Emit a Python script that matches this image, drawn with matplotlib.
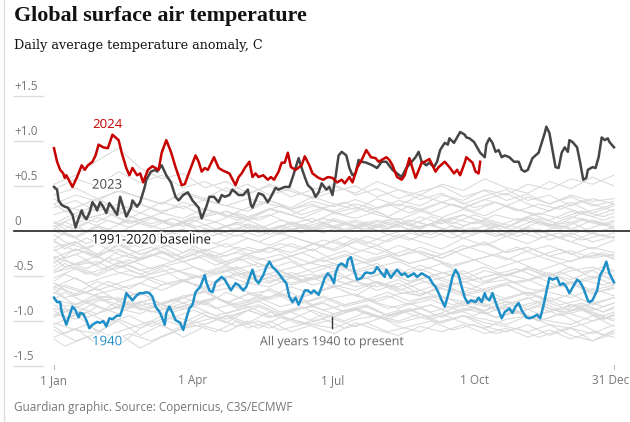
import matplotlib
matplotlib.use("Agg")
import matplotlib.pyplot as plt
import matplotlib.patheffects as pe

# day of year (0 = 1 Jan) and anomaly in C
days_2024 = [0, 2, 4, 6, 7, 8, 12, 15, 18, 20, 22, 25, 27, 29, 32, 35, 38, 42, 44, 47,
             49, 51, 54, 56, 58, 61, 64, 68, 70, 73, 76, 79, 83, 85, 88, 92, 94, 96, 98, 100,
             104, 107, 110, 114, 118, 120, 122, 124, 127, 129, 131, 133, 136, 139, 141, 143, 146, 148, 150, 152,
             154, 157, 161, 163, 166, 168, 172, 175, 178, 181, 184, 187, 189, 192, 194, 197, 200, 203, 206, 209,
             211, 213, 216, 218, 220, 223, 226, 228, 231, 233, 235, 239, 241, 244, 246, 248, 250, 254, 257, 260,
             262, 264, 267, 268, 272, 274, 276, 277]
anom_2024 = [0.92, 0.77, 0.68, 0.64, 0.59, 0.62, 0.49, 0.60, 0.73, 0.68, 0.73, 0.77, 0.84, 0.96, 0.93, 0.92, 1.07, 1.01, 0.87, 0.70,
             0.62, 0.70, 0.62, 0.64, 0.54, 0.68, 0.72, 0.68, 0.87, 1.01, 0.88, 0.71, 0.51, 0.52, 0.66, 0.84, 0.77, 0.66, 0.70, 0.68,
             0.82, 0.70, 0.67, 0.64, 0.51, 0.60, 0.64, 0.70, 0.77, 0.60, 0.64, 0.60, 0.62, 0.57, 0.60, 0.57, 0.66, 0.76, 0.76, 0.87,
             0.71, 0.68, 0.73, 0.83, 0.73, 0.64, 0.59, 0.57, 0.60, 0.59, 0.54, 0.57, 0.53, 0.60, 0.54, 0.70, 0.79, 0.90, 0.82, 0.81,
             0.77, 0.79, 0.82, 0.79, 0.73, 0.60, 0.57, 0.62, 0.81, 0.70, 0.59, 0.76, 0.77, 0.80, 0.73, 0.66, 0.71, 0.77, 0.71, 0.64,
             0.68, 0.62, 0.76, 0.82, 0.76, 0.66, 0.64, 0.77]

days_2023 = [0, 2, 3, 5, 7, 9, 12, 14, 16, 18, 19, 21, 23, 25, 27, 28, 30, 32, 34, 36,
             38, 41, 43, 45, 47, 50, 51, 54, 56, 59, 60, 63, 66, 67, 70, 73, 76, 79, 81, 84,
             87, 90, 94, 96, 99, 101, 104, 107, 109, 111, 114, 116, 120, 123, 126, 128, 129, 131, 133, 136,
             139, 141, 144, 146, 150, 153, 155, 157, 159, 161, 163, 165, 168, 170, 172, 174, 177, 179, 181, 183,
             185, 187, 190, 192, 194, 196, 198, 200, 203, 207, 210, 213, 216, 220, 223, 226, 229, 232, 235, 237,
             239, 242, 244, 247, 249, 251, 254, 256, 257, 260, 262, 264, 267, 268, 270, 273, 275, 277, 280, 281,
             283, 285, 287, 289, 291, 293, 296, 299, 302, 304, 306, 308, 311, 313, 315, 317, 319, 320, 322, 324,
             326, 328, 330, 332, 334, 335, 337, 340, 342, 344, 346, 347, 350, 352, 354, 356, 358, 360, 361, 364]
anom_2023 = [0.49, 0.46, 0.34, 0.29, 0.27, 0.26, 0.18, 0.04, 0.14, 0.23, 0.18, 0.13, 0.20, 0.32, 0.27, 0.23, 0.32, 0.27, 0.20, 0.31,
             0.26, 0.18, 0.38, 0.27, 0.16, 0.26, 0.34, 0.27, 0.32, 0.49, 0.57, 0.66, 0.68, 0.66, 0.73, 0.62, 0.54, 0.38, 0.34, 0.40,
             0.43, 0.34, 0.26, 0.14, 0.27, 0.38, 0.38, 0.32, 0.40, 0.38, 0.40, 0.46, 0.40, 0.40, 0.46, 0.29, 0.26, 0.34, 0.42, 0.40,
             0.32, 0.38, 0.48, 0.46, 0.49, 0.49, 0.59, 0.70, 0.81, 0.70, 0.60, 0.51, 0.46, 0.38, 0.43, 0.53, 0.46, 0.49, 0.40, 0.60,
             0.84, 0.88, 0.84, 0.70, 0.62, 0.64, 0.79, 0.77, 0.76, 0.73, 0.70, 0.77, 0.77, 0.68, 0.64, 0.60, 0.70, 0.76, 0.82, 0.88,
             0.77, 0.73, 0.76, 0.71, 0.77, 0.90, 0.98, 0.96, 1.03, 0.98, 1.04, 1.10, 1.07, 1.04, 1.03, 0.99, 0.93, 0.87, 0.82, 0.96,
             1.03, 0.98, 0.88, 0.90, 0.82, 0.84, 0.82, 0.77, 0.77, 0.68, 0.66, 0.68, 0.81, 0.84, 0.87, 0.98, 1.09, 1.16, 1.09, 0.90,
             0.71, 0.70, 0.87, 0.93, 0.88, 1.01, 0.99, 0.93, 0.76, 0.57, 0.59, 0.68, 0.71, 0.70, 0.82, 1.04, 1.01, 1.03, 0.99, 0.93]

days_1940 = [0, 2, 4, 5, 8, 9, 12, 14, 16, 17, 19, 21, 23, 25, 28, 30, 32, 34, 36, 38,
             41, 43, 45, 47, 49, 51, 54, 56, 58, 60, 62, 64, 66, 69, 72, 73, 75, 77, 79, 82,
             84, 86, 88, 90, 92, 95, 98, 99, 101, 103, 105, 109, 111, 113, 115, 118, 120, 123, 125, 127,
             129, 131, 133, 136, 138, 140, 142, 144, 146, 149, 151, 153, 155, 157, 159, 161, 163, 165, 167, 169,
             172, 174, 176, 178, 180, 182, 183, 185, 187, 190, 191, 193, 195, 197, 200, 202, 203, 206, 208, 210,
             213, 215, 216, 219, 221, 223, 226, 228, 230, 232, 234, 236, 239, 241, 244, 246, 248, 250, 252, 254,
             257, 259, 261, 263, 265, 267, 269, 271, 274, 276, 278, 280, 281, 283, 285, 287, 289, 291, 293, 296,
             298, 300, 302, 304, 307, 309, 311, 314, 316, 318, 320, 322, 324, 327, 329, 331, 333, 335, 337, 340,
             342, 344, 347, 348, 350, 353, 355, 357, 359, 361, 364]
anom_1940 = [-0.74, -0.79, -0.79, -0.90, -1.04, -0.99, -0.84, -0.88, -0.96, -0.91, -0.92, -0.99, -1.08, -1.04, -1.01, -1.02, -1.00, -1.06, -0.97, -0.98,
             -0.94, -0.94, -0.84, -0.69, -0.73, -0.77, -0.71, -0.69, -0.69, -0.68, -0.69, -0.73, -0.84, -0.91, -1.04, -0.91, -0.84, -0.91, -0.99, -1.02,
             -1.10, -0.97, -0.86, -0.82, -0.68, -0.62, -0.49, -0.57, -0.66, -0.68, -0.57, -0.51, -0.54, -0.60, -0.66, -0.58, -0.60, -0.66, -0.62, -0.52,
             -0.43, -0.54, -0.58, -0.49, -0.40, -0.34, -0.40, -0.43, -0.47, -0.54, -0.58, -0.73, -0.79, -0.74, -0.82, -0.74, -0.66, -0.66, -0.69, -0.66,
             -0.71, -0.62, -0.52, -0.47, -0.51, -0.58, -0.47, -0.38, -0.36, -0.40, -0.32, -0.29, -0.43, -0.54, -0.52, -0.47, -0.46, -0.47, -0.46, -0.40,
             -0.47, -0.51, -0.43, -0.52, -0.47, -0.43, -0.49, -0.47, -0.51, -0.49, -0.47, -0.51, -0.47, -0.49, -0.52, -0.58, -0.62, -0.69, -0.77, -0.84,
             -0.66, -0.51, -0.43, -0.49, -0.62, -0.74, -0.80, -0.77, -0.79, -0.74, -0.79, -0.69, -0.74, -0.77, -0.69, -0.79, -0.88, -0.97, -0.90, -0.86,
             -0.91, -0.84, -0.80, -0.88, -0.96, -0.97, -0.96, -0.93, -0.97, -0.84, -0.68, -0.52, -0.54, -0.52, -0.60, -0.58, -0.62, -0.69, -0.63, -0.54,
             -0.57, -0.63, -0.77, -0.79, -0.77, -0.66, -0.49, -0.43, -0.34, -0.47, -0.57]

# the other years, sampled every 14 days
other_days = [0, 14, 28, 42, 56, 70, 84, 98, 112, 126, 140, 154, 168, 182, 196, 210, 224, 238, 252, 266, 280, 294, 308, 322, 336, 350, 364]
other_years = [
    [0.52, 0.62, 0.78, 0.92, 0.70, 0.58, 0.64, 0.48, 0.55, 0.42, 0.50, 0.38, 0.46, 0.52, 0.40, 0.47, 0.36, 0.44, 0.50, 0.38, 0.45, 0.34, 0.41, 0.30, 0.38, 0.28, 0.33],
    [0.46, 0.58, 0.50, 0.66, 0.54, 0.62, 0.48, 0.55, 0.44, 0.52, 0.40, 0.47, 0.36, 0.44, 0.50, 0.38, 0.46, 0.35, 0.42, 0.30, 0.39, 0.46, 0.34, 0.40, 0.28, 0.36, 0.30],
    [0.30, 0.40, 0.33, 0.46, 0.37, 0.30, 0.44, 0.36, 0.48, 0.40, 0.52, 0.44, 0.38, 0.50, 0.42, 0.55, 0.46, 0.40, 0.52, 0.45, 0.58, 0.48, 0.42, 0.55, 0.47, 0.60, 0.50],
    [0.26, 0.34, 0.22, 0.30, 0.20, 0.32, 0.25, 0.35, 0.28, 0.22, 0.34, 0.26, 0.38, 0.30, 0.24, 0.36, 0.28, 0.40, 0.32, 0.25, 0.35, 0.42, 0.30, 0.22, 0.32, 0.20, 0.28],
    [0.40, 0.48, 0.36, 0.44, 0.38, 0.30, 0.42, 0.34, 0.28, 0.36, 0.30, 0.24, 0.33, 0.27, 0.35, 0.26, 0.30, 0.22, 0.32, 0.26, 0.35, 0.28, 0.38, 0.30, 0.40, 0.33, 0.36],
    [0.05, 0.16, 0.10, 0.22, 0.12, 0.20, 0.14, 0.25, 0.18, 0.12, 0.24, 0.18, 0.28, 0.22, 0.30, 0.24, 0.34, 0.28, 0.40, 0.34, 0.46, 0.40, 0.52, 0.46, 0.58, 0.52, 0.62],
    [0.10, 0.02, 0.15, 0.08, 0.20, 0.12, 0.05, 0.16, 0.22, 0.14, 0.25, 0.18, 0.10, 0.20, 0.26, 0.18, 0.12, 0.22, 0.15, 0.24, 0.17, 0.28, 0.20, 0.12, 0.22, 0.16, 0.24],
    [0.08, 0.20, 0.28, 0.18, 0.30, 0.22, 0.28, 0.16, 0.22, 0.12, 0.18, 0.08, 0.14, 0.04, 0.10, 0.00, 0.06, -0.04, 0.02, -0.08, 0.00, -0.06, 0.04, -0.04, -0.12, -0.02, -0.08],
    [0.02, -0.06, 0.06, -0.02, 0.10, 0.02, 0.08, -0.02, 0.06, 0.12, 0.02, 0.08, 0.00, 0.06, 0.12, 0.04, 0.10, 0.02, 0.14, 0.06, 0.12, 0.04, 0.16, 0.08, 0.02, 0.12, 0.06],
    [0.18, 0.26, 0.36, 0.24, 0.30, 0.20, 0.32, 0.24, 0.16, 0.26, 0.34, 0.24, 0.30, 0.20, 0.14, 0.22, 0.10, 0.04, 0.12, -0.02, 0.06, -0.06, 0.02, -0.10, -0.02, -0.12, -0.06],
    [-0.22, -0.12, -0.26, -0.10, -0.18, -0.04, -0.12, 0.02, -0.06, 0.08, 0.00, 0.10, 0.04, 0.14, 0.06, 0.12, 0.04, 0.16, 0.08, 0.18, 0.10, 0.04, 0.14, 0.06, 0.10, -0.02, 0.04],
    [-0.34, -0.26, -0.38, -0.22, -0.30, -0.14, -0.24, -0.10, -0.18, -0.08, -0.16, -0.06, -0.14, -0.20, -0.08, -0.16, -0.04, -0.12, -0.20, -0.08, -0.16, -0.06, -0.14, -0.04, -0.12, -0.20, -0.10],
    [-0.30, -0.20, -0.28, -0.16, -0.26, -0.18, -0.12, -0.22, -0.14, -0.26, -0.18, -0.24, -0.14, -0.22, -0.12, -0.20, -0.28, -0.18, -0.26, -0.16, -0.24, -0.32, -0.22, -0.16, -0.26, -0.18, -0.24],
    [-0.12, -0.22, -0.14, -0.26, -0.32, -0.22, -0.30, -0.20, -0.28, -0.18, -0.24, -0.14, -0.22, -0.10, -0.20, -0.26, -0.16, -0.24, -0.30, -0.20, -0.14, -0.24, -0.18, -0.28, -0.34, -0.24, -0.30],
    [-0.28, -0.38, -0.34, -0.46, -0.52, -0.42, -0.56, -0.48, -0.40, -0.52, -0.58, -0.46, -0.54, -0.44, -0.56, -0.48, -0.42, -0.54, -0.46, -0.52, -0.58, -0.48, -0.42, -0.50, -0.40, -0.52, -0.44],
    [-0.46, -0.36, -0.28, -0.40, -0.32, -0.24, -0.34, -0.28, -0.38, -0.26, -0.34, -0.28, -0.36, -0.42, -0.32, -0.40, -0.34, -0.44, -0.36, -0.48, -0.40, -0.50, -0.42, -0.52, -0.44, -0.40, -0.50],
    [-0.18, -0.12, -0.26, -0.20, -0.32, -0.24, -0.34, -0.26, -0.36, -0.30, -0.42, -0.34, -0.46, -0.38, -0.44, -0.36, -0.50, -0.42, -0.52, -0.44, -0.56, -0.48, -0.54, -0.46, -0.58, -0.50, -0.60],
    [-0.52, -0.42, -0.50, -0.38, -0.48, -0.40, -0.34, -0.46, -0.38, -0.48, -0.40, -0.50, -0.42, -0.36, -0.46, -0.40, -0.48, -0.38, -0.46, -0.54, -0.44, -0.50, -0.40, -0.48, -0.54, -0.44, -0.56],
    [-0.62, -0.52, -0.66, -0.58, -0.50, -0.60, -0.54, -0.64, -0.52, -0.46, -0.56, -0.50, -0.60, -0.54, -0.62, -0.56, -0.66, -0.58, -0.52, -0.62, -0.68, -0.58, -0.54, -0.64, -0.56, -0.66, -0.60],
    [-0.58, -0.72, -0.64, -0.78, -0.68, -0.82, -0.74, -0.66, -0.80, -0.70, -0.76, -0.68, -0.82, -0.74, -0.70, -0.80, -0.86, -0.76, -0.72, -0.82, -0.88, -0.78, -0.84, -0.74, -0.82, -0.88, -0.80],
    [-0.46, -0.40, -0.48, -0.34, -0.44, -0.38, -0.46, -0.52, -0.44, -0.54, -0.48, -0.58, -0.52, -0.62, -0.56, -0.66, -0.58, -0.70, -0.64, -0.72, -0.66, -0.76, -0.68, -0.78, -0.70, -0.82, -0.74],
    [-0.76, -0.82, -0.70, -0.64, -0.58, -0.66, -0.56, -0.62, -0.50, -0.58, -0.62, -0.52, -0.48, -0.56, -0.46, -0.58, -0.62, -0.54, -0.64, -0.68, -0.58, -0.54, -0.64, -0.68, -0.74, -0.64, -0.72],
    [-0.92, -0.98, -0.84, -0.92, -0.78, -0.88, -0.74, -0.82, -0.68, -0.78, -0.64, -0.74, -0.70, -0.62, -0.72, -0.58, -0.68, -0.72, -0.60, -0.70, -0.64, -0.58, -0.72, -0.64, -0.58, -0.70, -0.62],
    [-0.58, -0.66, -0.72, -0.76, -0.68, -0.82, -0.86, -0.78, -0.92, -0.84, -0.94, -0.98, -0.88, -0.96, -0.86, -0.94, -1.00, -0.92, -1.02, -0.94, -0.98, -1.04, -0.94, -1.00, -1.04, -0.94, -1.06],
    [-0.86, -0.92, -0.78, -0.74, -0.88, -0.80, -0.72, -0.68, -0.80, -0.70, -0.66, -0.78, -0.70, -0.62, -0.72, -0.78, -0.70, -0.66, -0.74, -0.78, -0.84, -0.74, -0.68, -0.80, -0.88, -0.80, -0.74],
    [-1.02, -1.10, -1.14, -0.98, -1.08, -0.94, -1.02, -0.90, -0.98, -0.88, -0.96, -0.90, -1.00, -0.94, -0.88, -0.96, -1.02, -0.96, -0.92, -1.02, -1.08, -0.98, -0.94, -1.04, -1.08, -1.14, -1.04],
    [-0.96, -0.84, -0.92, -0.78, -0.86, -0.92, -0.98, -1.04, -0.94, -1.08, -1.00, -1.12, -1.04, -0.98, -1.06, -0.98, -0.92, -0.86, -0.96, -0.86, -0.92, -0.84, -0.96, -0.90, -0.82, -0.92, -0.98],
    [-1.10, -1.22, -1.14, -1.28, -1.08, -0.98, -1.06, -0.94, -1.02, -0.88, -0.96, -0.88, -0.84, -0.92, -0.86, -0.96, -0.88, -0.96, -1.02, -0.94, -1.06, -1.12, -1.04, -1.16, -1.08, -1.22, -1.14],
    [-0.68, -0.82, -0.74, -0.86, -0.92, -0.80, -0.74, -0.68, -0.64, -0.58, -0.52, -0.60, -0.54, -0.48, -0.56, -0.62, -0.54, -0.66, -0.58, -0.70, -0.76, -0.82, -0.74, -0.86, -0.92, -1.00, -0.94],
    [-1.18, -1.08, -1.26, -1.14, -1.30, -1.18, -1.08, -1.04, -0.94, -1.02, -0.90, -0.98, -1.04, -1.08, -0.98, -0.94, -1.06, -1.12, -1.00, -0.94, -1.02, -1.06, -1.12, -1.04, -1.16, -1.22, -1.10],
    [0.00, -0.08, 0.04, -0.04, -0.12, -0.02, 0.02, -0.08, 0.00, 0.06, -0.04, 0.06, 0.00, 0.12, 0.04, 0.10, 0.14, 0.04, 0.12, 0.18, 0.08, 0.04, 0.14, 0.06, 0.16, 0.10, 0.04],
    [-0.36, -0.20, -0.30, -0.14, -0.26, -0.18, -0.30, -0.22, -0.34, -0.26, -0.18, -0.28, -0.20, -0.32, -0.24, -0.16, -0.28, -0.22, -0.30, -0.20, -0.12, -0.24, -0.18, -0.28, -0.22, -0.30, -0.26],
    [-1.04, -0.92, -1.12, -1.00, -1.16, -1.04, -1.18, -1.06, -1.12, -1.00, -1.08, -0.98, -1.06, -1.14, -1.02, -1.10, -1.16, -1.06, -1.12, -1.04, -1.14, -1.08, -1.18, -1.10, -1.20, -1.12, -1.18],
    [-0.62, -0.70, -0.56, -0.64, -0.72, -0.60, -0.54, -0.66, -0.58, -0.68, -0.74, -0.62, -0.70, -0.60, -0.66, -0.56, -0.64, -0.72, -0.62, -0.56, -0.66, -0.60, -0.70, -0.62, -0.58, -0.68, -0.64],
]

# more years, sampled on days offset by a week
other_days_b = [0, 7, 21, 35, 49, 63, 77, 91, 105, 119, 133, 147, 161, 175, 189, 203, 217, 231, 245, 259, 273, 287, 301, 315, 329, 343, 357, 364]
other_years_b = [
    [0.30, 0.22, 0.14, 0.20, 0.08, 0.16, 0.06, 0.14, 0.22, 0.12, 0.20, 0.28, 0.18, 0.26, 0.32, 0.22, 0.30, 0.20, 0.28, 0.36, 0.26, 0.32, 0.22, 0.30, 0.24, 0.34, 0.26, 0.30],
    [0.02, 0.10, 0.00, 0.12, 0.04, 0.14, 0.06, 0.16, 0.10, 0.20, 0.12, 0.22, 0.14, 0.24, 0.18, 0.26, 0.16, 0.28, 0.20, 0.30, 0.22, 0.32, 0.24, 0.18, 0.28, 0.20, 0.26, 0.22],
    [0.06, -0.02, 0.10, 0.02, 0.12, 0.04, 0.14, 0.06, 0.00, 0.10, 0.02, 0.12, 0.06, 0.14, 0.08, 0.02, 0.12, 0.06, 0.16, 0.08, 0.18, 0.10, 0.04, 0.14, 0.08, 0.20, 0.12, 0.16],
    [-0.10, -0.20, -0.08, -0.16, -0.04, -0.12, -0.02, -0.10, 0.02, -0.06, 0.04, -0.04, 0.06, -0.02, 0.08, 0.00, 0.10, 0.02, -0.04, 0.06, -0.02, 0.04, -0.06, 0.02, -0.08, 0.00, -0.06, -0.02],
    [0.36, 0.28, 0.20, 0.30, 0.16, 0.08, 0.14, 0.04, 0.10, 0.00, 0.06, -0.02, 0.04, 0.10, 0.00, 0.06, -0.04, 0.02, 0.08, -0.02, 0.04, -0.06, 0.00, -0.08, -0.02, -0.10, -0.04, -0.08],
    [0.10, 0.02, 0.14, 0.20, 0.10, 0.16, 0.06, 0.12, 0.02, 0.08, -0.02, 0.06, 0.00, 0.08, 0.02, 0.10, 0.04, 0.12, 0.06, 0.00, 0.10, 0.04, 0.14, 0.08, 0.02, 0.12, 0.06, 0.10],
    [-0.40, -0.32, -0.42, -0.30, -0.36, -0.26, -0.34, -0.22, -0.28, -0.18, -0.24, -0.14, -0.20, -0.10, -0.16, -0.06, -0.12, -0.02, -0.08, 0.02, -0.04, 0.06, 0.00, 0.10, 0.04, 0.14, 0.08, 0.12],
    [-0.44, -0.36, -0.48, -0.40, -0.32, -0.42, -0.34, -0.26, -0.38, -0.30, -0.40, -0.32, -0.24, -0.34, -0.26, -0.36, -0.28, -0.20, -0.30, -0.22, -0.32, -0.26, -0.18, -0.28, -0.20, -0.30, -0.24, -0.28],
    [-0.20, -0.30, -0.22, -0.34, -0.26, -0.18, -0.28, -0.20, -0.30, -0.24, -0.32, -0.26, -0.38, -0.30, -0.22, -0.32, -0.26, -0.36, -0.30, -0.40, -0.32, -0.42, -0.34, -0.44, -0.36, -0.46, -0.40, -0.44],
    [-0.56, -0.48, -0.58, -0.50, -0.44, -0.52, -0.46, -0.40, -0.48, -0.42, -0.36, -0.44, -0.38, -0.32, -0.40, -0.34, -0.28, -0.36, -0.30, -0.38, -0.32, -0.26, -0.34, -0.28, -0.36, -0.30, -0.26, -0.32],
    [-0.30, -0.40, -0.34, -0.44, -0.38, -0.48, -0.42, -0.52, -0.46, -0.40, -0.50, -0.44, -0.54, -0.48, -0.42, -0.52, -0.46, -0.56, -0.50, -0.44, -0.54, -0.48, -0.42, -0.52, -0.46, -0.56, -0.50, -0.54],
    [-0.70, -0.60, -0.68, -0.56, -0.64, -0.52, -0.60, -0.50, -0.58, -0.46, -0.54, -0.48, -0.56, -0.50, -0.58, -0.52, -0.46, -0.56, -0.50, -0.60, -0.54, -0.48, -0.58, -0.52, -0.62, -0.54, -0.60, -0.56],
    [-0.82, -0.90, -0.80, -0.88, -0.78, -0.86, -0.76, -0.84, -0.74, -0.82, -0.76, -0.70, -0.80, -0.74, -0.84, -0.78, -0.72, -0.82, -0.76, -0.86, -0.80, -0.74, -0.84, -0.78, -0.88, -0.82, -0.90, -0.84],
    [-0.74, -0.84, -0.78, -0.88, -0.82, -0.76, -0.86, -0.80, -0.74, -0.84, -0.78, -0.70, -0.80, -0.72, -0.82, -0.76, -0.68, -0.78, -0.72, -0.82, -0.76, -0.86, -0.78, -0.72, -0.82, -0.76, -0.84, -0.80],
    [-0.64, -0.74, -0.68, -0.78, -0.86, -0.80, -0.90, -0.84, -0.94, -0.88, -0.82, -0.92, -0.86, -0.80, -0.90, -0.84, -0.94, -0.88, -0.82, -0.92, -0.86, -0.96, -0.90, -0.84, -0.94, -0.88, -0.98, -0.92],
    [-0.94, -0.86, -0.96, -0.88, -0.80, -0.90, -0.84, -0.76, -0.86, -0.80, -0.74, -0.84, -0.78, -0.88, -0.82, -0.76, -0.86, -0.80, -0.90, -0.84, -0.78, -0.88, -0.82, -0.92, -0.86, -0.80, -0.90, -0.86],
    [-0.76, -0.68, -0.80, -0.72, -0.84, -0.76, -0.88, -0.80, -0.74, -0.86, -0.78, -0.90, -0.84, -0.96, -0.88, -0.82, -0.94, -0.86, -0.98, -0.90, -0.84, -0.96, -0.88, -1.00, -0.92, -0.86, -0.98, -0.94],
    [-1.06, -1.14, -1.04, -1.16, -1.08, -1.00, -1.10, -1.02, -0.96, -1.06, -1.00, -1.10, -1.04, -0.98, -1.08, -1.02, -1.12, -1.06, -1.00, -1.10, -1.04, -1.14, -1.08, -1.18, -1.10, -1.04, -1.16, -1.12],
    [-1.20, -1.28, -1.18, -1.24, -1.14, -1.22, -1.12, -1.04, -1.12, -1.00, -1.08, -0.96, -1.04, -0.92, -1.00, -0.90, -0.98, -0.88, -0.96, -0.86, -0.94, -0.84, -0.92, -0.82, -0.90, -0.86, -0.94, -0.90],
    [-0.88, -0.98, -0.90, -1.02, -0.94, -1.06, -0.96, -0.88, -0.98, -0.92, -0.84, -0.94, -0.86, -0.80, -0.90, -0.84, -0.94, -0.88, -0.82, -0.92, -0.86, -0.96, -0.90, -1.00, -0.92, -1.04, -0.96, -1.00],
    [-0.10, -0.02, -0.14, -0.06, -0.16, -0.08, -0.02, -0.10, -0.04, 0.02, -0.06, 0.04, -0.02, 0.06, 0.00, 0.08, 0.02, 0.12, 0.06, 0.14, 0.08, 0.18, 0.12, 0.20, 0.14, 0.22, 0.16, 0.20],
    [-0.04, -0.12, -0.20, -0.10, -0.18, -0.08, -0.16, -0.06, -0.14, -0.04, -0.12, -0.02, -0.10, -0.16, -0.06, -0.14, -0.04, -0.10, 0.00, -0.08, 0.02, -0.06, 0.04, -0.02, 0.06, 0.00, 0.08, 0.02],
]

ytick_values = [1.5, 1.0, 0.5, 0.0, -0.5, -1.0, -1.5]
ytick_labels = ["+1.5", "+1.0", "+0.5", "0", "-0.5", "-1.0", "-1.5"]
xtick_days = [0, 90, 181, 273, 364]
xtick_labels = ["1 Jan", "1 Apr", "1 Jul", "1 Oct", "31 Dec"]

RED = "#c70000"
DARK = "#454545"
BLUE = "#1f8fc8"
LIGHT = "#d9d9d9"
SANS = "Open Sans"

fig = plt.figure(figsize=(6.3, 4.22), dpi=100)
ax = fig.add_axes([0, 0, 1, 1])
# axes spans the whole canvas: 1.5385 px per day, 90 px per degree
ax.set_xlim(-35.1, 374.4)
ax.set_ylim(-2.122, 2.567)
ax.axis("off")

halo = [pe.withStroke(linewidth=3, foreground="white")]

for vals in other_years:
    ax.plot(other_days, vals, color=LIGHT, lw=0.75, zorder=1)
for vals in other_years_b:
    ax.plot(other_days_b, vals, color=LIGHT, lw=0.75, zorder=1)

ax.plot(days_1940, anom_1940, color=BLUE, lw=1.8, zorder=3)
ax.plot(days_2023, anom_2023, color=DARK, lw=1.8, zorder=3)
ax.plot(days_2024, anom_2024, color=RED, lw=1.8, zorder=4)

# baseline across the full width
ax.plot([-26, 374.4], [0, 0], color="#333333", lw=1.3, zorder=5)

for v, lab in zip(ytick_values, ytick_labels):
    if v != 0:
        ax.plot([-26, -7], [v, v], color="#dcdcdc", lw=1, zorder=0)
    ax.annotate(lab, (-26, v), xytext=(0, 2.5), textcoords="offset points",
                ha="left", va="bottom", fontsize=8.5, color="#767676", family=SANS)

for d, lab in zip(xtick_days, xtick_labels):
    if d == 364:
        # the last label sits flush with the right edge
        ax.text(374.0, -1.705, lab, ha="right", va="baseline", fontsize=8.5,
                color="#767676", family=SANS)
    else:
        ax.text(d, -1.705, lab, ha="center", va="baseline", fontsize=8.5,
                color="#767676", family=SANS)
for d in (0, 364):
    ax.plot([d, d], [-1.49, -1.53], color="#bbbbbb", lw=0.8)

ax.text(34.5, 1.18, "2024", color=RED, fontsize=9.5, family=SANS,
        ha="center", va="center", zorder=6)
ax.text(34.5, 0.51, "2023", color=DARK, fontsize=9.5, family=SANS,
        ha="center", va="center", zorder=6, path_effects=halo)
ax.text(24.5, -0.10, "1991-2020 baseline", color="#121212", fontsize=9.5, family=SANS,
        ha="left", va="center", zorder=6, path_effects=halo)
ax.text(34.5, -1.23, "1940", color=BLUE, fontsize=9.5, family=SANS,
        ha="center", va="center", zorder=6, path_effects=halo)
ax.text(181, -1.23, "All years 1940 to present", color="#666666", fontsize=9,
        family=SANS, ha="center", va="center", zorder=6, path_effects=halo)
ax.plot([181, 181], [-0.96, -1.08], color="#333333", lw=1, zorder=6)

fig.text(14 / 630, 1 - 21 / 422, "Global surface air temperature", fontsize=15.8,
         fontweight="bold", family="Liberation Serif", color="#121212", va="baseline")
fig.text(14 / 630, 1 - 49 / 422, "Daily average temperature anomaly, C", fontsize=9.2,
         family="DejaVu Serif", color="#121212", va="baseline")
fig.text(14 / 630, 1 - 411 / 422, "Guardian graphic. Source: Copernicus, C3S/ECMWF",
         fontsize=8.5, family=SANS, color="#767676", va="baseline")

# page border on the left
fig.add_artist(plt.Line2D([3.5 / 630, 3.5 / 630], [0, 1], color="#dddddd", lw=1))

fig.savefig("out.png", dpi=100)
